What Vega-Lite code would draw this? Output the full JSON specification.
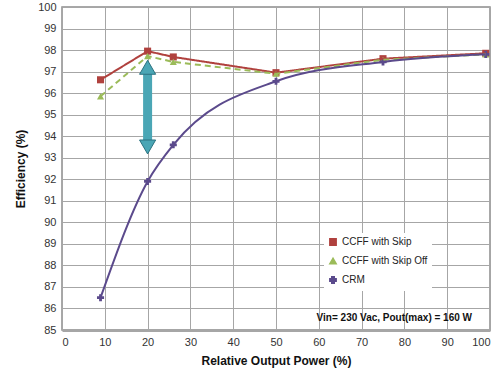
{
  "$schema": "https://vega.github.io/schema/vega-lite/v6.json",
  "width": 428,
  "height": 323,
  "autosize": {"type": "none"},
  "padding": {"left": 62, "top": 7, "right": 10, "bottom": 45},
  "background": "white",
  "config": {
    "font": "Liberation Sans",
    "view": {"stroke": "#8c8c8c", "strokeWidth": 1.5},
    "axis": {"gridColor": "#a6a6a6", "gridOpacity": 1, "gridWidth": 1, "labelColor": "#333333", "labelFontSize": 11, "ticks": false, "titleFontWeight": "bold", "titleFontSize": 12, "titleColor": "#111111"},
    "legend": {"title": null, "orient": "none", "legendX": 262, "legendY": 226, "fillColor": "white", "padding": 4, "labelFontSize": 10, "labelColor": "#222222", "rowPadding": 6, "symbolSize": 40}
  },
  "datasets": {
    "series": [
      {"power": 9, "eff": 96.62, "series": "CCFF with Skip"},
      {"power": 20, "eff": 97.95, "series": "CCFF with Skip"},
      {"power": 26, "eff": 97.68, "series": "CCFF with Skip"},
      {"power": 50, "eff": 96.95, "series": "CCFF with Skip"},
      {"power": 75, "eff": 97.6, "series": "CCFF with Skip"},
      {"power": 99, "eff": 97.85, "series": "CCFF with Skip"},
      {"power": 9, "eff": 95.85, "series": "CCFF with Skip Off"},
      {"power": 20, "eff": 97.72, "series": "CCFF with Skip Off"},
      {"power": 26, "eff": 97.45, "series": "CCFF with Skip Off"},
      {"power": 50, "eff": 96.9, "series": "CCFF with Skip Off"},
      {"power": 75, "eff": 97.55, "series": "CCFF with Skip Off"},
      {"power": 99, "eff": 97.8, "series": "CCFF with Skip Off"},
      {"power": 9, "eff": 86.5, "series": "CRM"},
      {"power": 20, "eff": 91.9, "series": "CRM"},
      {"power": 26, "eff": 93.6, "series": "CRM"},
      {"power": 50, "eff": 96.55, "series": "CRM"},
      {"power": 75, "eff": 97.45, "series": "CRM"},
      {"power": 99, "eff": 97.8, "series": "CRM"}
    ],
    "arrowShaft": [{"power": 20, "y1": 93.7, "y2": 97.0}],
    "arrowUp": [{"power": 20, "eff": 97.2}],
    "arrowDown": [{"power": 20, "eff": 93.5}],
    "note": [{"power": 95.8, "eff": 85.55, "label": "Vin= 230 Vac, Pout(max) = 160 W"}]
  },
  "layer": [
    {
      "data": {"name": "series"},
      "mark": {"type": "point", "filled": true, "size": 50, "opacity": 1},
      "encoding": {
        "x": {"field": "power", "type": "quantitative", "scale": {"domain": [0, 100], "nice": false}, "axis": {"values": [0,10,20,30,40,50,60,70,80,90,100], "tickCount": 11, "title": "Relative Output Power (%)", "domainColor": "#a6a6a6", "domainWidth": 3, "labelPadding": 6, "titlePadding": 8, "labelOverlap": false}},
        "y": {"field": "eff", "type": "quantitative", "scale": {"domain": [85, 100], "nice": false, "zero": false}, "axis": {"values": [85,86,87,88,89,90,91,92,93,94,95,96,97,98,99,100], "tickCount": 16, "title": "Efficiency (%)", "domain": false, "labelPadding": 6, "titlePadding": 10, "labelOverlap": false, "labelBound": false}},
        "color": {"field": "series", "type": "nominal", "scale": {"domain": ["CCFF with Skip", "CCFF with Skip Off", "CRM"], "range": ["#b0413e", "#9bbb59", "#5b4a8c"]}},
        "shape": {"field": "series", "type": "nominal", "scale": {"domain": ["CCFF with Skip", "CCFF with Skip Off", "CRM"], "range": ["square", "triangle-up", "cross"]}}
      }
    },
    {
      "data": {"name": "series"},
      "transform": [{"filter": "datum.series !== 'CRM'"}],
      "mark": {"type": "line", "strokeWidth": 2},
      "encoding": {
        "x": {"field": "power", "type": "quantitative"},
        "y": {"field": "eff", "type": "quantitative"},
        "color": {"field": "series", "type": "nominal"},
        "strokeDash": {"field": "series", "type": "nominal", "scale": {"domain": ["CCFF with Skip", "CCFF with Skip Off"], "range": [[1,0],[6,4]]}, "legend": null}
      }
    },
    {
      "data": {"name": "series"},
      "transform": [{"filter": "datum.series === 'CRM'"}],
      "mark": {"type": "line", "strokeWidth": 2, "interpolate": "monotone", "color": "#5b4a8c"},
      "encoding": {
        "x": {"field": "power", "type": "quantitative"},
        "y": {"field": "eff", "type": "quantitative"}
      }
    },
    {
      "data": {"name": "arrowShaft"},
      "mark": {"type": "rule", "strokeWidth": 9, "color": "#4aa6b5", "strokeCap": "butt"},
      "encoding": {
        "x": {"field": "power", "type": "quantitative"},
        "y": {"field": "y1", "type": "quantitative"},
        "y2": {"field": "y2"}
      }
    },
    {
      "data": {"name": "arrowUp"},
      "mark": {"type": "point", "shape": "triangle-up", "filled": true, "size": 260, "color": "#4aa6b5", "stroke": "#2b7280", "strokeWidth": 1, "opacity": 1},
      "encoding": {
        "x": {"field": "power", "type": "quantitative"},
        "y": {"field": "eff", "type": "quantitative"}
      }
    },
    {
      "data": {"name": "arrowDown"},
      "mark": {"type": "point", "shape": "triangle-down", "filled": true, "size": 260, "color": "#4aa6b5", "stroke": "#2b7280", "strokeWidth": 1, "opacity": 1},
      "encoding": {
        "x": {"field": "power", "type": "quantitative"},
        "y": {"field": "eff", "type": "quantitative"}
      }
    },
    {
      "data": {"name": "note"},
      "mark": {"type": "text", "align": "right", "baseline": "middle", "fontWeight": "bold", "fontSize": 10, "color": "#111111"},
      "encoding": {
        "x": {"field": "power", "type": "quantitative"},
        "y": {"field": "eff", "type": "quantitative"},
        "text": {"field": "label"}
      }
    }
  ]
}
